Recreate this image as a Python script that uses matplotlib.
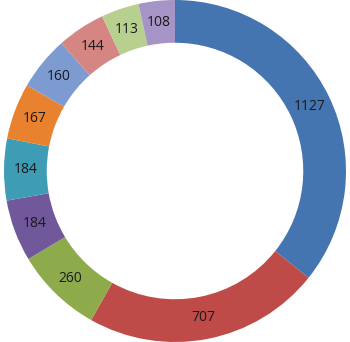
import matplotlib.pyplot as plt
import numpy as np

values = [1127, 707, 260, 184, 184, 167, 160, 144, 113, 108]
labels = [str(v) for v in values]
colors = ['#4575B0', '#BE4B48', '#8DAB4B', '#71589A', '#3E9DB5', '#E9822F',
          '#7E9BD1', '#D58683', '#B8D08F', '#A594C5']

fig = plt.figure(figsize=(3.5, 3.42), dpi=100)
ax = fig.add_axes([0, 0, 1, 1])

wedges, texts = ax.pie(values, colors=colors, startangle=90, counterclock=False,
                       radius=1.0, labels=labels, labeldistance=0.875,
                       wedgeprops={'width': 0.25, 'linewidth': 0},
                       textprops={'fontsize': 10, 'color': '#1a1a1a',
                                  'family': 'Open Sans'})
for t in texts:
    t.set_horizontalalignment('center')
    t.set_verticalalignment('center')

ax.set_xlim(-1.023, 1.023)
ax.set_ylim(-1.0, 1.0)
ax.set_aspect('equal')
ax.axis('off')

plt.savefig('out.png', dpi=100)
